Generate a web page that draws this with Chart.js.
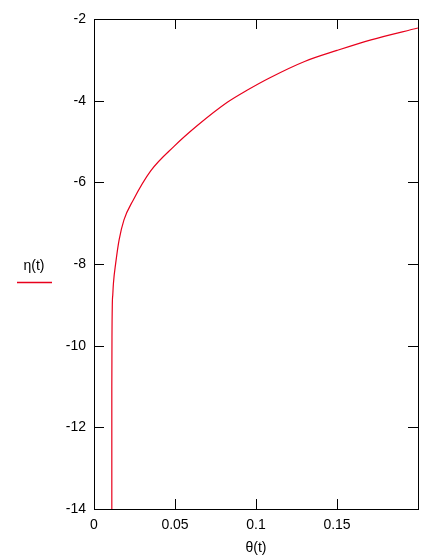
<!DOCTYPE html>
<html>
<head>
<meta charset="utf-8">
<script src="https://cdn.jsdelivr.net/npm/chart.js@4/dist/chart.umd.min.js"></script>
<style>
  html, body { margin: 0; padding: 0; background: #fff; }
  #wrap { width: 447px; height: 557px; }
</style>
</head>
<body>
<div id="wrap"><canvas id="etaChart"></canvas></div>
<script>
// values: theta(t) on x, eta(t) on y
const thetaValues = [0.011, 0.011, 0.0111, 0.0113, 0.0116, 0.012, 0.0134, 0.0155, 0.0185, 0.024, 0.035, 0.0494, 0.0638, 0.0823, 0.0947, 0.108, 0.13, 0.15, 0.171, 0.2];
const etaValues   = [-14, -11, -9.8, -9.0, -8.75, -8.47, -7.98, -7.41, -6.92, -6.45, -5.72, -5.12, -4.61, -4.04, -3.74, -3.45, -3.04, -2.77, -2.51, -2.22];
const xTickValues = [0, 0.05, 0.1, 0.15];
const yTickValues = [-14, -12, -10, -8, -6, -4, -2];
const seriesLabel = "η(t)";
const xTitle = "θ(t)";

const FONT = "Liberation Sans, Arial, sans-serif";

// box round the plot, inward tick marks on all four sides, and the side legend
const framePlugin = {
    id: "frame",
    afterDraw(chart) {
        const ctx = chart.ctx;
        const a = chart.chartArea;
        const xs = chart.scales.x, ys = chart.scales.y;
        const len = 10;
        ctx.save();
        ctx.strokeStyle = "#000";
        ctx.lineWidth = 1;
        ctx.strokeRect(Math.round(a.left) + 0.5, Math.round(a.top) + 0.5,
            Math.round(a.right - a.left), Math.round(a.bottom - a.top));
        ctx.beginPath();
        xs.ticks.forEach(t => {
            const px = Math.round(xs.getPixelForValue(t.value)) + 0.5;
            ctx.moveTo(px, a.bottom); ctx.lineTo(px, a.bottom - len);
            ctx.moveTo(px, a.top); ctx.lineTo(px, a.top + len);
        });
        ys.ticks.forEach(t => {
            const py = Math.round(ys.getPixelForValue(t.value)) + 0.5;
            ctx.moveTo(a.left, py); ctx.lineTo(a.left + len, py);
            ctx.moveTo(a.right, py); ctx.lineTo(a.right - len, py);
        });
        ctx.stroke();

        // legend: label with a red stroke under it
        const ds = chart.data.datasets[0];
        ctx.fillStyle = "#000";
        ctx.font = "14px " + FONT;
        ctx.textAlign = "center";
        ctx.textBaseline = "middle";
        ctx.fillText(ds.label, 34, 266);
        ctx.strokeStyle = ds.borderColor;
        ctx.lineWidth = 1.5;
        ctx.beginPath();
        ctx.moveTo(17, 282.5); ctx.lineTo(52, 282.5);
        ctx.stroke();
        ctx.restore();
    }
};

new Chart(document.getElementById("etaChart").getContext("2d"), {
    type: "scatter",
    data: {
        datasets: [{
            label: seriesLabel,
            data: thetaValues.map((x, i) => ({ x: x, y: etaValues[i] })),
            showLine: true,
            borderColor: "#e8001c",
            borderWidth: 1.2,
            pointRadius: 0,
            cubicInterpolationMode: "monotone"
        }]
    },
    options: {
        responsive: true,
        maintainAspectRatio: false,
        animation: false,
        layout: { padding: { left: 0, top: 19, right: 29, bottom: 0 } },
        plugins: {
            legend: { display: false },
            tooltip: { enabled: false }
        },
        scales: {
            x: {
                type: "linear",
                min: 0,
                max: 0.2,
                afterBuildTicks: s => { s.ticks = xTickValues.map(v => ({ value: v })); },
                afterFit: s => { s.height = 48; },
                grid: { display: false, drawTicks: false },
                border: { display: false },
                ticks: {
                    padding: 8,
                    color: "#000",
                    font: { family: FONT, size: 14 },
                    maxRotation: 0,
                    callback: v => String(v)
                },
                title: {
                    display: true,
                    text: xTitle,
                    color: "#000",
                    font: { family: FONT, size: 14 },
                    padding: { top: 4, bottom: 0 }
                }
            },
            y: {
                type: "linear",
                min: -14,
                max: -2,
                afterBuildTicks: s => { s.ticks = yTickValues.map(v => ({ value: v })); },
                afterFit: s => { s.width = 94; },
                grid: { display: false, drawTicks: false },
                border: { display: false },
                ticks: {
                    padding: 8,
                    color: "#000",
                    font: { family: FONT, size: 14 },
                    callback: v => String(v)
                }
            }
        }
    },
    plugins: [framePlugin]
});
</script>
</body>
</html>
